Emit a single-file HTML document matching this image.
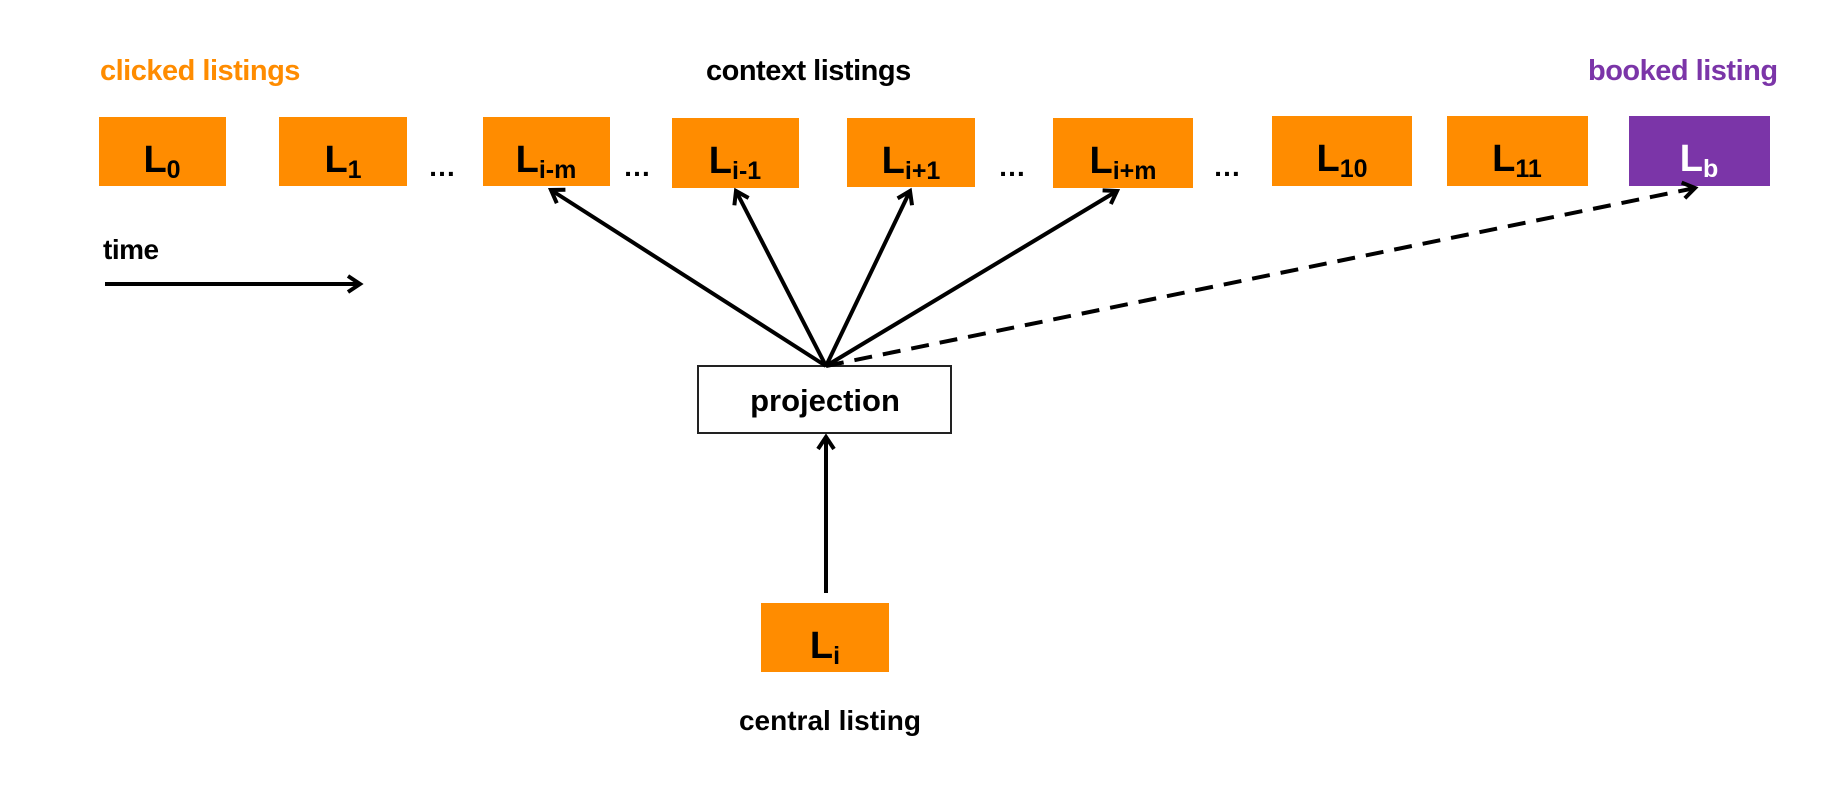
<!DOCTYPE html>
<html><head><style>
html,body{margin:0;padding:0;background:#fff;}
svg{display:block;}
text{font-family:"Liberation Sans",sans-serif;font-weight:bold;}
</style></head><body>
<svg width="1848" height="794" viewBox="0 0 1848 794" xmlns="http://www.w3.org/2000/svg">
<defs>
<marker id="ah" markerWidth="20" markerHeight="20" refX="14" refY="10" orient="auto" markerUnits="userSpaceOnUse">
<path d="M2,2 L14,10 L2,18" fill="none" stroke="#000" stroke-width="4"/>
</marker>
</defs>
<text x="100" y="80" font-size="29" fill="#FF8C00" letter-spacing="-0.5">clicked listings</text>
<text x="706" y="80" font-size="29" fill="#000" letter-spacing="-0.5">context listings</text>
<text x="1588" y="80" font-size="29" fill="#7B35A8" letter-spacing="-0.5">booked listing</text>

<g fill="#FF8C00">
<rect x="99" y="117" width="127" height="69"/>
<rect x="279" y="117" width="128" height="69"/>
<rect x="483" y="117" width="127" height="69"/>
<rect x="672" y="118" width="127" height="70"/>
<rect x="847" y="118" width="128" height="69"/>
<rect x="1053" y="118" width="140" height="70"/>
<rect x="1272" y="116" width="140" height="70"/>
<rect x="1447" y="116" width="141" height="70"/>
<rect x="761" y="603" width="128" height="69"/>
</g>
<rect x="1629" y="116" width="141" height="70" fill="#7B35A8"/>

<g font-size="38" fill="#000" text-anchor="middle">
<text x="162" y="172">L<tspan font-size="25" dy="6">0</tspan></text>
<text x="343" y="172">L<tspan font-size="25" dy="6">1</tspan></text>
<text x="546" y="172">L<tspan font-size="25" dy="6">i-m</tspan></text>
<text x="735" y="173">L<tspan font-size="25" dy="6">i-1</tspan></text>
<text x="911" y="173">L<tspan font-size="25" dy="6">i+1</tspan></text>
<text x="1123" y="173">L<tspan font-size="25" dy="6">i+m</tspan></text>
<text x="1342" y="171">L<tspan font-size="25" dy="6">10</tspan></text>
<text x="1517" y="171">L<tspan font-size="25" dy="6">11</tspan></text>
<text x="1699" y="171" fill="#fff">L<tspan font-size="25" dy="6">b</tspan></text>
<text x="825" y="658">L<tspan font-size="25" dy="6">i</tspan></text>
</g>
<g font-size="28" fill="#000" text-anchor="middle">
<text x="442" y="176">…</text>
<text x="637" y="176">…</text>
<text x="1012" y="176">…</text>
<text x="1227" y="176">…</text>
</g>

<text x="103" y="259" font-size="28" fill="#000" letter-spacing="-0.5">time</text>
<line x1="105" y1="284" x2="360" y2="284" stroke="#000" stroke-width="4" marker-end="url(#ah)"/>

<rect x="698" y="366" width="253" height="67" fill="#fff" stroke="#222" stroke-width="2"/>
<text x="825" y="411" font-size="31" fill="#000" text-anchor="middle">projection</text>
<text x="830" y="730" font-size="28" fill="#000" text-anchor="middle">central listing</text>

<g stroke="#000" stroke-width="4" fill="none">
<line x1="826" y1="593" x2="826" y2="437" marker-end="url(#ah)"/>
<line x1="826" y1="366" x2="551" y2="190" marker-end="url(#ah)"/>
<line x1="826" y1="366" x2="736" y2="191" marker-end="url(#ah)"/>
<line x1="826" y1="366" x2="910" y2="191" marker-end="url(#ah)"/>
<line x1="826" y1="366" x2="1117" y2="191" marker-end="url(#ah)"/>
<line x1="826" y1="366" x2="1695" y2="188" stroke-dasharray="18,11" marker-end="url(#ah)"/>
</g>
</svg>
</body></html>
